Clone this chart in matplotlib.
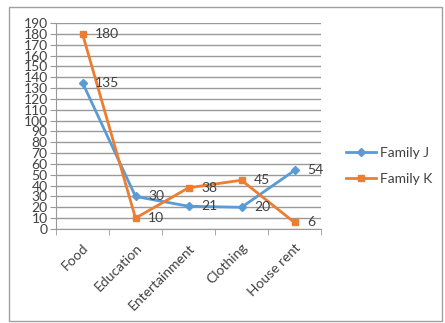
import matplotlib
matplotlib.use("Agg")
import matplotlib.pyplot as plt
from matplotlib.patches import Rectangle
from matplotlib.lines import Line2D

plt.rcParams['font.family'] = ['Lato', 'DejaVu Sans']

categories = ["Food", "Education", "Entertainment", "Clothing", "House rent"]
family_j = [135, 30, 21, 20, 54]
family_k = [180, 10, 38, 45, 6]
y_ticks = list(range(0, 200, 10))

W, H = 445, 323
fig = plt.figure(figsize=(W / 100, H / 100), dpi=100)
ax = fig.add_axes([56 / W, 1 - 229 / H, 265 / W, 206 / H])

blue = "#5B9BD5"
orange = "#ED7D31"
txt = "#404040"

x = list(range(len(categories)))
ax.plot(x, family_j, color=blue, lw=2, marker="D", ms=4, label="Family J", zorder=3)
ax.plot(x, family_k, color=orange, lw=2, marker="s", ms=5, label="Family K", zorder=3)

for xi, v in zip(x, family_j):
    ax.annotate(str(v), (xi, v), xytext=(9, 0), textcoords="offset points",
                va="center", ha="left", fontsize=10, color=txt)
for xi, v in zip(x, family_k):
    ax.annotate(str(v), (xi, v), xytext=(9, 0), textcoords="offset points",
                va="center", ha="left", fontsize=10, color=txt)

ax.set_xlim(-0.5, len(categories) - 0.5)
ax.set_ylim(0, 190)
ax.set_yticks(y_ticks)
ax.set_yticklabels([str(t) for t in y_ticks], fontsize=10, color=txt)
ax.yaxis.grid(True, color="#999999", lw=1)
ax.set_axisbelow(True)

ax.set_xticks(x)
ax.set_xticklabels(categories, rotation=45, ha="right", rotation_mode="anchor",
                   fontsize=10, color=txt)
ax.set_xticks([i + 0.5 for i in range(-1, len(categories))], minor=True)
ax.tick_params(axis="x", which="major", length=0, pad=9)
ax.tick_params(axis="x", which="minor", length=4, color="#999999")
ax.tick_params(axis="y", length=4, color="#999999", pad=2)

for s in ["top", "right"]:
    ax.spines[s].set_visible(False)
for s in ["left", "bottom"]:
    ax.spines[s].set_color("#999999")

handles = [Line2D([], [], color=blue, lw=2, marker="D", ms=4),
           Line2D([], [], color=orange, lw=2, marker="s", ms=5)]
fig.legend(handles, ["Family J", "Family K"], loc="center left",
           bbox_to_anchor=(333 / W, 1 - 166 / H), frameon=False, fontsize=10,
           labelcolor=txt, handlelength=2.2, labelspacing=1.0, handletextpad=0.3)

fig.patches.append(Rectangle((9 / W, 1 - 321 / H), 433 / W, 314 / H,
                             transform=fig.transFigure, fill=False,
                             edgecolor="#A0A0A0", lw=1))

fig.savefig("out.png", dpi=100)
